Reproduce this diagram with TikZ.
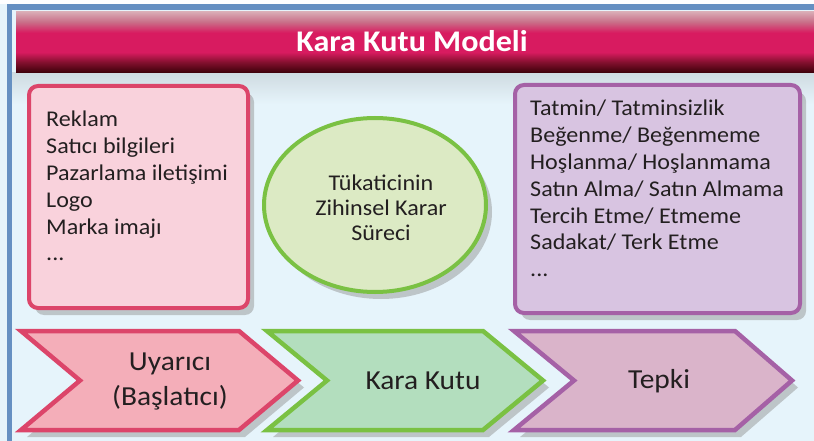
\documentclass[tikz,border=0pt]{standalone}
\usepackage{fontspec}
\setmainfont{Carlito}[FakeStretch=1.07]
\usetikzlibrary{shapes.geometric,shadows}

\definecolor{frameblue}{HTML}{6690C2}
\definecolor{bglight}{HTML}{E6F4FB}
\definecolor{bggrey}{HTML}{CFDBE1}
\definecolor{ink}{HTML}{231F20}
\definecolor{bardark}{HTML}{3A0008}
\definecolor{barwine}{HTML}{85102F}
\definecolor{barred}{HTML}{D81B60}
\definecolor{barpale}{HTML}{C97089}
\definecolor{barlight}{HTML}{D9AAB4}
\definecolor{pinkline}{HTML}{DC456A}
\definecolor{pinkfill}{HTML}{F9D2DC}
\definecolor{pinkarrow}{HTML}{F4AEB9}
\definecolor{greenline}{HTML}{7AC143}
\definecolor{greenfill}{HTML}{DCEAC4}
\definecolor{greenarrow}{HTML}{B3DEBE}
\definecolor{purpline}{HTML}{A561A6}
\definecolor{purpfill}{HTML}{D8C4E1}
\definecolor{purparrow}{HTML}{DAB4CA}

\pgfdeclareverticalshading{titlebar}{100bp}{color(0bp)=(bardark); color(25bp)=(bardark);
  color(34bp)=(barwine); color(42bp)=(barred); color(58bp)=(barred);
  color(67bp)=(barpale); color(75bp)=(barlight); color(100bp)=(barlight)}

\begin{document}
\begin{tikzpicture}[x=1pt,y=-1pt,
    every node/.style={text=ink, inner sep=0pt},
    softshadow/.style={drop shadow={shadow xshift=6pt, shadow yshift=-7pt,
        fill=black!45, opacity=.45}},
    listbox/.style={line width=4pt, rounded corners=9pt, softshadow},
    listtext/.style={anchor=north west, align=left,
        font=\fontsize{22.5}{26.8}\selectfont},
    chevron/.style={line width=4.5pt, line join=miter, softshadow},
    chevtext/.style={align=center, font=\fontsize{27.5}{35}\selectfont}]
  \useasboundingbox (0,0) rectangle (814,441);

  % frame and background
  \fill[bglight] (0,0) rectangle (814,441);
  \fill[white] (0,0) rectangle (814,4);
  \fill[frameblue] (7,4) rectangle (814,10);
  \fill[frameblue] (7,4) rectangle (12,441);
  \shade[top color=bggrey, bottom color=bglight] (12,73) rectangle (814,104);

  % title bar
  \shade[shading=titlebar] (16,12) rectangle (814,73);
  \node[text=white, font=\bfseries\fontsize{30}{34}\selectfont] (title)
    at (412,41) {Kara Kutu Modeli};

  % upper row
  \draw[listbox, draw=pinkline, fill=pinkfill] (29,86) rectangle (248,308);
  \node[listtext] (stimuli) at (46,111) {Reklam\\Satıcı bilgileri\\Pazarlama iletişimi\\Logo\\Marka imajı\\...};

  \node[ellipse, draw=greenline, fill=greenfill, line width=4pt, softshadow,
    minimum width=222pt, minimum height=174pt] (process) at (375,205) {};
  \node[align=center, font=\fontsize{22.5}{25}\selectfont] (processtext)
    at (381,208) {Tükaticinin\\Zihinsel Karar\\Süreci};

  \draw[listbox, draw=purpline, fill=purpfill] (515,85) rectangle (800,313);
  \node[listtext] (responses) at (530,100) {Tatmin/ Tatminsizlik\\Beğenme/ Beğenmeme\\Hoşlanma/ Hoşlanmama\\Satın Alma/ Satın Almama\\Tercih Etme/ Etmeme\\Sadakat/ Terk Etme\\...};

  % lower row
  \draw[chevron, draw=pinkline, fill=pinkarrow] (21,331) -- (239,331) --
        (298,380.5) -- (239,430) -- (21,430) -- (80,380.5) -- cycle;
  \draw[chevron, draw=greenline, fill=greenarrow] (267,331) -- (483,331) --
        (543,380.5) -- (483,430) -- (267,430) -- (327,380.5) -- cycle;
  \draw[chevron, draw=purpline, fill=purparrow] (514,331) -- (735,331) --
        (792,380.5) -- (735,430) -- (514,430) -- (574,380.5) -- cycle;
  \node[chevtext] (stimulus) at (170,381) {Uyarıcı\\(Başlatıcı)};
  \node[chevtext] (blackbox) at (423,381) {Kara Kutu};
  \node[chevtext] (response) at (659,381) {Tepki};
\end{tikzpicture}
\end{document}
